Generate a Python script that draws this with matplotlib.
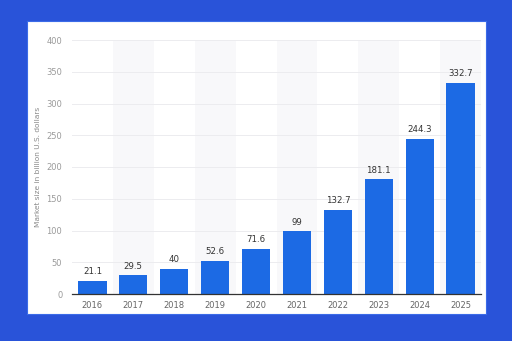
import matplotlib
matplotlib.use("Agg")
import matplotlib.pyplot as plt

years = ["2016", "2017", "2018", "2019", "2020", "2021", "2022", "2023", "2024", "2025"]
values = [21.1, 29.5, 40, 52.6, 71.6, 99, 132.7, 181.1, 244.3, 332.7]
value_labels = ["21.1", "29.5", "40", "52.6", "71.6", "99", "132.7", "181.1", "244.3", "332.7"]
yticks = [0, 50, 100, 150, 200, 250, 300, 350, 400]

W, H = 512, 341
fig = plt.figure(figsize=(W / 100, H / 100), dpi=100)
fig.patch.set_facecolor("#2953D9")

# white card as a background axes
bg = fig.add_axes([27 / W, 1 - 314 / H, (486 - 27) / W, (314 - 21) / H], zorder=0)
bg.set_facecolor("white")
bg.set_xticks([])
bg.set_yticks([])
for s in bg.spines.values():
    s.set_color("#3b6be8")
    s.set_linewidth(0.8)

ax = fig.add_axes([72 / W, 1 - 294 / H, (481 - 72) / W, (294 - 40) / H], zorder=1)
ax.set_facecolor("none")
x = list(range(len(years)))

# alternating shaded bands
for i in x:
    if i % 2 == 1:
        ax.axvspan(i - 0.5, i + 0.5, color="#f8f8fa", zorder=0, lw=0)

for t in yticks[1:]:
    ax.axhline(t, color="#ececef", lw=0.7, zorder=1)

ax.bar(x, values, width=0.69, color="#1C6AE4", zorder=2)
for xi, v, lab in zip(x, values, value_labels):
    ax.text(xi, v + 7, lab, ha="center", va="bottom", fontsize=6.2, color="#333333", zorder=3)

ax.set_xlim(-0.5, 9.5)
ax.set_ylim(0, 400)
ax.set_xticks(x)
ax.set_xticklabels(years)
ax.set_yticks(yticks)
ax.tick_params(axis="both", length=0, labelsize=6, colors="#666666")
ax.tick_params(axis="x", pad=5)
ax.tick_params(axis="y", pad=7, labelcolor="#9a9a9a")
for s in ["top", "right", "left"]:
    ax.spines[s].set_visible(False)
ax.spines["bottom"].set_color("#333333")
ax.spines["bottom"].set_linewidth(0.9)
ax.set_ylabel("Market size in billion U.S. dollars", fontsize=5.3, color="#888888", labelpad=4)

fig.savefig("out.png", dpi=100, facecolor=fig.get_facecolor())
